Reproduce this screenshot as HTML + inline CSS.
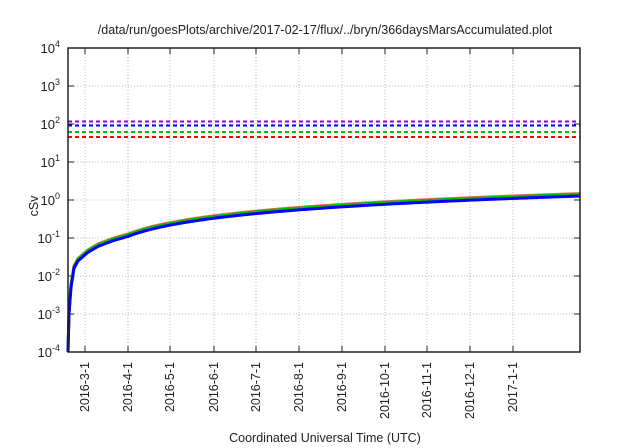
<!DOCTYPE html>
<html><head><meta charset="utf-8"><style>
html,body{margin:0;padding:0;background:#fff;width:640px;height:448px;overflow:hidden}
text{font-family:"Liberation Sans",sans-serif;fill:#222}
</style></head><body>
<svg id="s" width="640" height="448" xmlns="http://www.w3.org/2000/svg">
<text x="325" y="34" font-size="12.5" text-anchor="middle">/data/run/goesPlots/archive/2017-02-17/flux/../bryn/366daysMarsAccumulated.plot</text>
<text x="325" y="442" font-size="12.5" text-anchor="middle">Coordinated Universal Time (UTC)</text>
<text x="0" y="0" font-size="12.5" text-anchor="middle" transform="translate(38,206) rotate(-90)">cSv</text>
<g id="grid" stroke="#bbb" stroke-width="1" stroke-dasharray="1,2"></g>
<g id="ticks" stroke="#222" stroke-width="1"></g>
<g id="lab"></g>
<g stroke-width="2" stroke-dasharray="4,3">
<line x1="68" x2="580" y1="121.5" y2="121.5" stroke="#9400d3"/>
<line x1="68" x2="580" y1="125.5" y2="125.5" stroke="#0000ff"/>
<line x1="68" x2="580" y1="132" y2="132" stroke="#00c000"/>
<line x1="68" x2="580" y1="137" y2="137" stroke="#ff0000"/>
</g>
<path id="r" fill="none" stroke="#ff6060" stroke-width="3"/>
<path id="g" fill="none" stroke="#00c000" stroke-width="3"/>
<path id="b" fill="none" stroke="#0000ff" stroke-width="3"/>
<rect x="68" y="48" width="512" height="304" fill="none" stroke="#222" stroke-width="1.5"/>
</svg>
<script>
var NS="http://www.w3.org/2000/svg";
function el(p,t,a,tx){var e=document.createElementNS(NS,t);for(var k in a)e.setAttribute(k,a[k]);if(tx!=null)e.textContent=tx;document.getElementById(p).appendChild(e);return e;}
var Y=function(v){return 200-38*Math.log10(v);};
for(var d=-4;d<=4;d++){var y=200-38*d;
 if(d>-4&&d<4)el("grid","line",{x1:68,x2:580,y1:y,y2:y});
 el("ticks","line",{x1:68,x2:74,y1:y,y2:y});el("ticks","line",{x1:574,x2:580,y1:y,y2:y});
 var tt=el("lab","text",{x:60,y:y+5,"font-size":13,"text-anchor":"end"});
 tt.textContent="10";var s=document.createElementNS(NS,"tspan");s.setAttribute("dy","-6");s.setAttribute("font-size","9");s.textContent=d;tt.appendChild(s);
}
var xs=[85,128,170,214,256,299,342,385,427,470,513];
var lb=["2016-3-1","2016-4-1","2016-5-1","2016-6-1","2016-7-1","2016-8-1","2016-9-1","2016-10-1","2016-11-1","2016-12-1","2017-1-1"];
xs.forEach(function(x,i){
 el("grid","line",{x1:x,x2:x,y1:48,y2:352});
 el("ticks","line",{x1:x,x2:x,y1:346,y2:352});el("ticks","line",{x1:x,x2:x,y1:48,y2:54});
 el("lab","text",{x:0,y:0,"font-size":12.5,"text-anchor":"end",transform:"translate("+(x+4)+",362) rotate(-90)"},lb[i]);
});
var P=[[0,1e-4],[1,1e-3],[3,5e-3],[6,0.016],[10,0.025],[20,0.042],[30,0.06],[45,0.085],[60,0.11]];
function base(t){
 if(t>=60)return 0.11+0.00257*(t-60);
 for(var i=0;i<P.length-1;i++){if(t<=P[i+1][0]){var a=P[i],b=P[i+1],f=(t-a[0])/(b[0]-a[0]);return Math.pow(10,Math.log10(a[1])+f*(Math.log10(b[1])-Math.log10(a[1])));}}
}
function mk(id,k){var p="";for(var t=0;t<=512;t+=(t<12?0.5:2)){var v=base(t)*k;var y=Math.min(352,Y(v));p+=(p?" L":"M")+(68+t).toFixed(2)+","+y.toFixed(2);}document.getElementById(id).setAttribute("d",p);}
mk("r",1.16);mk("g",1.11);mk("b",1.0);
</script>
</body></html>
